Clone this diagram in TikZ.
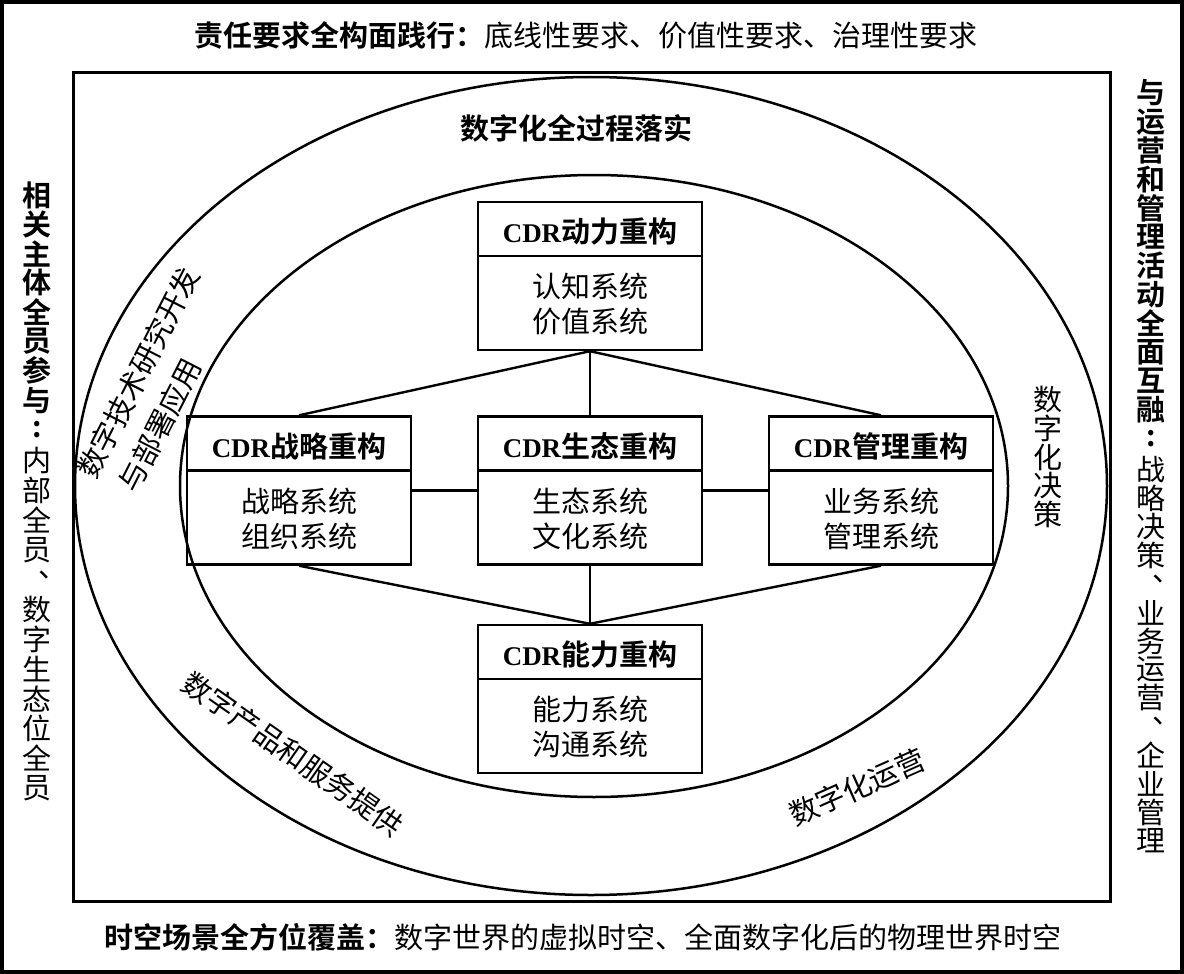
\documentclass[tikz,border=0pt]{standalone}
\usepackage{fontspec}
\setmainfont{Liberation Serif}
\newfontfamily\cjk{Noto Sans CJK SC}
\newfontfamily\cjkb{Noto Sans CJK SC Bold}
\newcommand\vd{\rlap{\hspace{0.55em}\smash{\raisebox{0.48em}{、}}}\phantom{字}}
\newcommand\cdrh[1]{{\fontsize{27}{27}\selectfont\bfseries CDR}{\cjkb #1}}
\begin{document}
\begin{tikzpicture}[x=1pt,y=-1pt,
  every node/.style={inner sep=0pt},
  cjkr/.style={font=\cjk\fontsize{29}{35}\selectfont},
  cjkbold/.style={font=\cjkb\fontsize{29}{35}\selectfont},
  hdr/.style={font=\fontsize{29}{35}\selectfont},
  conn/.style={draw, line width=2.4pt},
  cdrbox/.style={draw, line width=2.4pt, minimum width=224pt, minimum height=148pt}]
\useasboundingbox (0,0) rectangle (1184,974);
\fill[white] (0,0) rectangle (1184,974);
% frames
\draw[line width=3.5pt] (2,2) rectangle (1182,972);
\draw[line width=3pt] (73,73) rectangle (1110,901);
% ellipses
\draw[line width=2.5pt] (591,486) ellipse [x radius=516, y radius=409];
\draw[line width=2.5pt] (594,486) ellipse [x radius=414, y radius=311];
% boxes
\node[cdrbox] (dong) at (590,276) {};
\node[cdrbox] (zhan) at (299,490.5) {};
\node[cdrbox] (sheng) at (590,490.5) {};
\node[cdrbox] (guan) at (881,490.5) {};
\node[cdrbox] (neng) at (590,699) {};
\foreach \b in {dong,zhan,sheng,guan,neng}
  \draw[line width=2.4pt] ([yshift=-55pt]\b.north west) -- ([yshift=-55pt]\b.north east);
% box texts
\node[hdr] (dongT) at ([yshift=-31pt]dong.north) {\cdrh{动力重构}};
\node[cjkr, align=center] (dongS) at ([yshift=-103.5pt]dong.north) {认知系统\\价值系统};
\node[hdr] (zhanT) at ([yshift=-31pt]zhan.north) {\cdrh{战略重构}};
\node[cjkr, align=center] (zhanS) at ([yshift=-103.5pt]zhan.north) {战略系统\\组织系统};
\node[hdr] (shengT) at ([yshift=-31pt]sheng.north) {\cdrh{生态重构}};
\node[cjkr, align=center] (shengS) at ([yshift=-103.5pt]sheng.north) {生态系统\\文化系统};
\node[hdr] (guanT) at ([yshift=-31pt]guan.north) {\cdrh{管理重构}};
\node[cjkr, align=center] (guanS) at ([yshift=-103.5pt]guan.north) {业务系统\\管理系统};
\node[hdr] (nengT) at ([yshift=-31pt]neng.north) {\cdrh{能力重构}};
\node[cjkr, align=center] (nengS) at ([yshift=-103.5pt]neng.north) {能力系统\\沟通系统};
% connectors
\draw[conn] (dong.south) -- (sheng.north);
\draw[conn] (zhan.north) -- (dong.south);
\draw[conn] (guan.north) -- (dong.south);
\draw[conn] (zhan.east) -- (sheng.west);
\draw[conn] (sheng.east) -- (guan.west);
\draw[conn] (sheng.south) -- (neng.north);
\draw[conn] (zhan.south) -- (neng.north);
\draw[conn] (guan.south) -- (neng.north);
% titles
\node[hdr] (toptitle) at (585.5,35) {{\cjkb 责任要求全构面践行：}{\cjk 底线性要求、价值性要求、治理性要求}};
\node[hdr] (bottitle) at (583,937) {{\cjkb 时空场景全方位覆盖：}{\cjk 数字世界的虚拟时空、全面数字化后的物理世界时空}};
\node[cjkbold] (ring) at (576,128.5) {数字化全过程落实};
% rotated ring texts
\node[cjkr, rotate=63] (rd1) at (138.5,372.5) {数字技术研究开发};
\node[cjkr, rotate=63] (rd2) at (160,425) {与部署应用};
\node[cjkr, rotate=-35] (rp) at (293,754) {数字产品和服务提供};
\node[cjkr, rotate=24] (ry) at (857,787) {数字化运营};
% vertical texts
\foreach \c [count=\i from 0] in {相,关,主,体,全,员,参,与,:}
  \node[cjkbold] (lb\i) at (37,{195+29.3*\i}) {\c};
\foreach \c [count=\i from 0] in {内,部,全,员,\vd,数,字,生,态,位,全,员}
  \node[cjkr] (lr\i) at (37,{461+29.7*\i}) {\c};
\foreach \c [count=\i from 0] in {与,运,营,和,管,理,活,动,全,面,互,融,:}
  \node[cjkbold] (rb\i) at (1151,{93+28.8*\i}) {\c};
\foreach \c [count=\i from 0] in {战,略,决,策,\vd,业,务,运,营,\vd,企,业,管,理}
  \node[cjkr] (rr\i) at (1151,{470+28.5*\i}) {\c};
\foreach \c [count=\i from 0] in {数,字,化,决,策}
  \node[cjkr] (jc\i) at (1048,{400+28.5*\i}) {\c};
\end{tikzpicture}
\end{document}
